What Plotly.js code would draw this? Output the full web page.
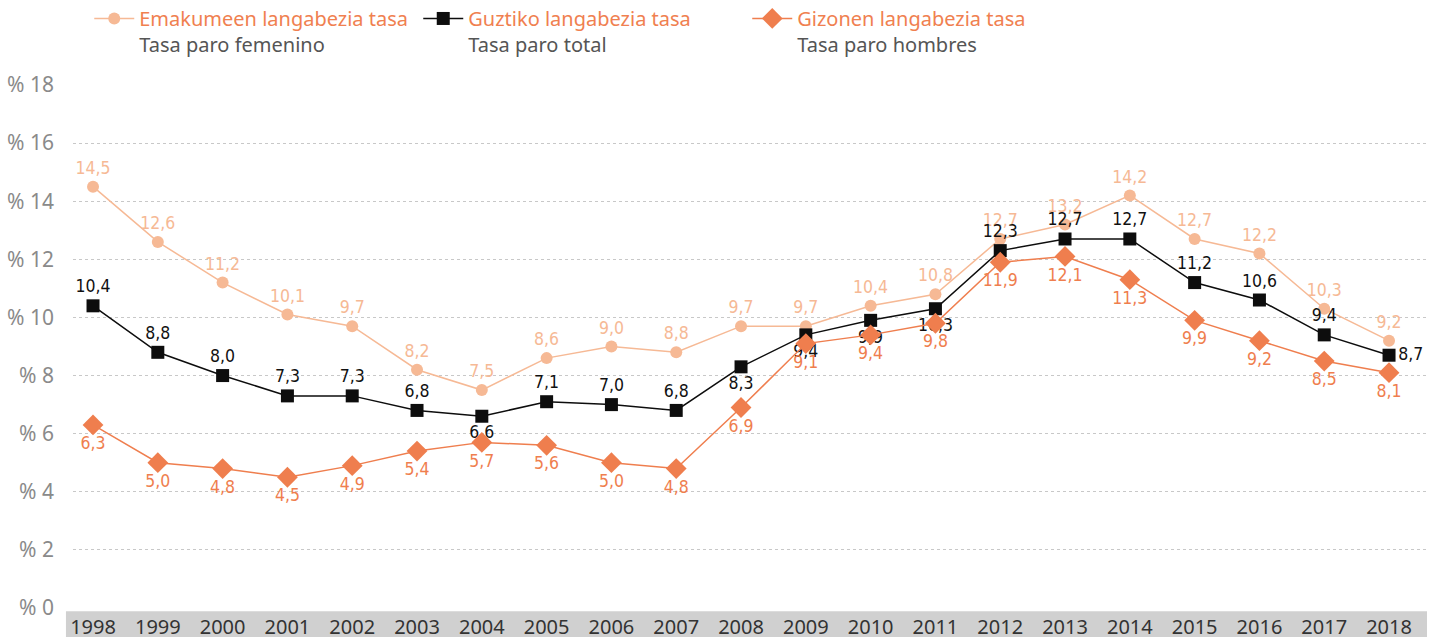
<!DOCTYPE html>
<html>
<head>
<meta charset="utf-8">
<script src="https://cdn.plot.ly/plotly-3.0.1.min.js"></script>
<style>html,body{margin:0;padding:0;background:#fff}#chart{width:1436px;height:637px}</style>
</head>
<body>
<div id="chart"></div>
<script>
const years = ['1998','1999','2000','2001','2002','2003','2004','2005','2006','2007','2008','2009','2010','2011','2012','2013','2014','2015','2016','2017','2018'];
const female = [14.5,12.6,11.2,10.1,9.7,8.2,7.5,8.6,9.0,8.8,9.7,9.7,10.4,10.8,12.7,13.2,14.2,12.7,12.2,10.3,9.2];
const total = [10.4,8.8,8.0,7.3,7.3,6.8,6.6,7.1,7.0,6.8,8.3,9.4,9.9,10.3,12.3,12.7,12.7,11.2,10.6,9.4,8.7];
const men = [6.3,5.0,4.8,4.5,4.9,5.4,5.7,5.6,5.0,4.8,6.9,9.1,9.4,9.8,11.9,12.1,11.3,9.9,9.2,8.5,8.1];
const seriesEu = ['Emakumeen langabezia tasa','Guztiko langabezia tasa','Gizonen langabezia tasa'];
const seriesEs = ['Tasa paro femenino','Tasa paro total','Tasa paro hombres'];

const cFem = '#F6B995', cTot = '#0d0d0d', cMen = '#EF7E4E', cLegTitle = '#F08050';
const labelFont = 'DejaVu Sans Condensed, Liberation Sans Narrow, sans-serif';
const mainFont = 'Noto Sans, Lato, sans-serif';
const totPos = ['top center','top center','top center','top center','top center','top center','bottom center','top center','top center','top center','bottom center','bottom center','bottom center','bottom center','top center','top center','top center','top center','top center','top center','middle right'];

function nm(i){return '<span style="color:'+cLegTitle+'">'+seriesEu[i]+'</span><br>'+seriesEs[i];}

const traces = [
 {x:years,y:female,name:nm(0),type:'scatter',mode:'lines+markers+text',
  line:{color:cFem,width:1.5},marker:{color:cFem,symbol:'circle',size:12},
  texttemplate:'%{y:.1f}',textposition:'top center',textfont:{family:labelFont,size:17.5,color:cFem},cliponaxis:false},
 {x:years,y:total,name:nm(1),type:'scatter',mode:'lines+markers+text',
  line:{color:cTot,width:1.5},marker:{color:cTot,symbol:'square',size:13},
  texttemplate:'%{y:.1f}',textposition:totPos,textfont:{family:labelFont,size:17.5,color:'#111'},cliponaxis:false},
 {x:years,y:men,name:nm(2),type:'scatter',mode:'lines+markers+text',
  line:{color:cMen,width:1.5},marker:{color:cMen,symbol:'diamond',size:16},
  texttemplate:'%{y:.1f}',textposition:'bottom center',textfont:{family:labelFont,size:17.5,color:cMen},cliponaxis:false}
];

const layout = {
 width:1436,height:637,
 margin:{l:73,r:9,t:85,b:29,autoexpand:false},
 separators:',.',
 paper_bgcolor:'#fff',plot_bgcolor:'#fff',
 font:{family:mainFont,color:'#555'},
 showlegend:true,
 legend:{orientation:'h',x:0.012,xanchor:'left',y:1.1645,yanchor:'top',valign:'top',
  font:{family:mainFont,size:20,color:'#555'},traceorder:'normal',itemwidth:40,
  entrywidth:274,entrywidthmode:'pixels'},
 xaxis:{type:'category',range:[-0.309,20.586],showgrid:false,zeroline:false,showline:false,ticks:'',
  tickfont:{family:mainFont,size:20,color:'#333'},ticklabelstandoff:5,fixedrange:true},
 yaxis:{range:[0,18],dtick:2,tick0:0,tickprefix:'% ',showgrid:true,gridcolor:'#c8c8c8',griddash:'dot',gridwidth:1,
  zeroline:false,showline:false,ticks:'',tickfont:{family:mainFont,size:21,color:'#8a8a8a'},ticklabelstandoff:18,fixedrange:true},
 shapes:[{type:'rect',xref:'paper',yref:'paper',x0:-0.0052,x1:1.0,y0:-0.06,y1:-0.006,fillcolor:'#d0d0d0',line:{width:0},layer:'below'}]
};
Plotly.newPlot('chart',traces,layout,{displayModeBar:false,staticPlot:true});
</script>
</body>
</html>
